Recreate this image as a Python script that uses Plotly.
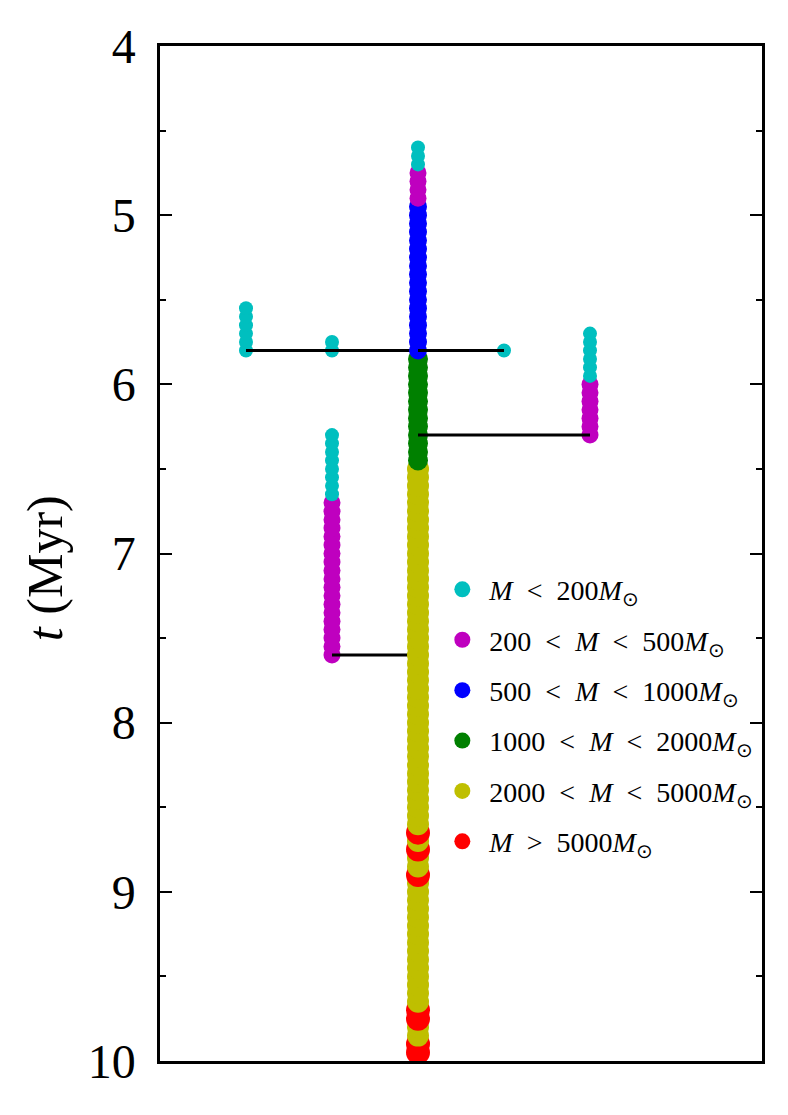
import plotly.graph_objects as go

# branch positions on the (hidden) x axis
branch_x = {"a": 1, "b": 2, "c": 3, "d": 4, "e": 5}

# snapshot times (Myr) and mass class runs for each branch
a_t = [5.55, 5.60, 5.65, 5.70, 5.75, 5.80]
a_runs = [("c", 6)]

b1_t = [5.75, 5.80]
b1_runs = [("c", 2)]

b2_t = [6.30, 6.35, 6.40, 6.45, 6.50, 6.55, 6.60, 6.65, 6.70, 6.75,
        6.80, 6.85, 6.90, 6.95, 7.00, 7.05, 7.10, 7.15, 7.20, 7.25,
        7.30, 7.35, 7.40, 7.45, 7.50, 7.55, 7.60]
b2_runs = [("c", 8), ("m", 19)]

trunk_t = [4.60, 4.65, 4.70, 4.75, 4.80, 4.85, 4.90, 4.95, 5.00, 5.05,
           5.10, 5.15, 5.20, 5.25, 5.30, 5.35, 5.40, 5.45, 5.50, 5.55,
           5.60, 5.65, 5.70, 5.75, 5.80, 5.85, 5.90, 5.95, 6.00, 6.05,
           6.10, 6.15, 6.20, 6.25, 6.30, 6.35, 6.40, 6.45, 6.50, 6.55,
           6.60, 6.65, 6.70, 6.75, 6.80, 6.85, 6.90, 6.95, 7.00, 7.05,
           7.10, 7.15, 7.20, 7.25, 7.30, 7.35, 7.40, 7.45, 7.50, 7.55,
           7.60, 7.65, 7.70, 7.75, 7.80, 7.85, 7.90, 7.95, 8.00, 8.05,
           8.10, 8.15, 8.20, 8.25, 8.30, 8.35, 8.40, 8.45, 8.50, 8.55,
           8.60, 8.65, 8.70, 8.75, 8.80, 8.85, 8.90, 8.95, 9.00, 9.05,
           9.10, 9.15, 9.20, 9.25, 9.30, 9.35, 9.40, 9.45, 9.50, 9.55,
           9.60, 9.65, 9.70, 9.75, 9.80, 9.85, 9.90, 9.95]
trunk_runs = [("c", 3), ("m", 4), ("b", 18), ("g", 13), ("y", 43),
              ("r", 1), ("y", 1), ("r", 1), ("y", 2), ("r", 1), ("y", 15),
              ("r", 2), ("y", 2), ("r", 2)]

d_t = [5.80]
d_runs = [("c", 1)]

e_t = [5.70, 5.75, 5.80, 5.85, 5.90, 5.95, 6.00, 6.05, 6.10, 6.15,
       6.20, 6.25, 6.30]
e_runs = [("c", 6), ("m", 7)]

# mergers: time, from branch, into branch
merge_t = [5.8, 5.8, 7.6, 5.8, 6.3]
merge_from = ["a", "b", "b", "d", "e"]
merge_to = ["b", "c", "c", "c", "c"]

classes = ["c", "m", "b", "g", "y", "r"]
SP = "&nbsp;&nbsp;"
SUN = "<sub>⊙</sub>"
class_labels = [
    f"&nbsp;<i>M</i>{SP}&lt;{SP}200<i>M</i>{SUN}",
    f"&nbsp;200{SP}&lt;{SP}<i>M</i>{SP}&lt;{SP}500<i>M</i>{SUN}",
    f"&nbsp;500{SP}&lt;{SP}<i>M</i>{SP}&lt;{SP}1000<i>M</i>{SUN}",
    f"&nbsp;1000{SP}&lt;{SP}<i>M</i>{SP}&lt;{SP}2000<i>M</i>{SUN}",
    f"&nbsp;2000{SP}&lt;{SP}<i>M</i>{SP}&lt;{SP}5000<i>M</i>{SUN}",
    f"&nbsp;<i>M</i>{SP}&gt;{SP}5000<i>M</i>{SUN}",
]
class_color = {"c": "#00bfbf", "m": "#bf00bf", "b": "#0000ff",
               "g": "#008000", "y": "#bfbf00", "r": "#ff0000"}
class_size = {"c": 14, "m": 17, "b": 18, "g": 20, "y": 22, "r": 24}

SERIF = "Liberation Serif, Times New Roman, serif"


def expand_runs(runs):
    out = []
    for cls, n in runs:
        out += [cls] * n
    return out


def branch_trace(key, t, runs):
    cats = expand_runs(runs)
    # later snapshots first so that earlier ones sit on top
    t_rev = t[::-1]
    cats_rev = cats[::-1]
    return go.Scatter(
        x=[branch_x[key]] * len(t_rev), y=t_rev, mode="markers",
        marker=dict(color=[class_color[c] for c in cats_rev],
                    size=[class_size[c] for c in cats_rev],
                    line=dict(width=0), opacity=1),
        showlegend=False, hoverinfo="skip")


def merge_trace(i):
    return go.Scatter(
        x=[branch_x[merge_from[i]], branch_x[merge_to[i]]],
        y=[merge_t[i], merge_t[i]], mode="lines",
        line=dict(color="black", width=3),
        showlegend=False, hoverinfo="skip")


fig = go.Figure()
fig.add_trace(branch_trace("a", a_t, a_runs))
fig.add_trace(branch_trace("b", b1_t, b1_runs))
fig.add_trace(merge_trace(0))
fig.add_trace(merge_trace(1))
fig.add_trace(branch_trace("b", b2_t, b2_runs))
fig.add_trace(merge_trace(2))
fig.add_trace(branch_trace("c", trunk_t, trunk_runs))
fig.add_trace(branch_trace("d", d_t, d_runs))
fig.add_trace(merge_trace(3))
fig.add_trace(branch_trace("e", e_t, e_runs))
fig.add_trace(merge_trace(4))

# legend entries
for cls, lab in zip(classes, class_labels):
    fig.add_trace(go.Scatter(
        x=[None], y=[None], mode="markers", name=lab, legendgroup=cls,
        marker=dict(color=class_color[cls], size=17, line=dict(width=0))))

# page body has an 8px margin, so the figure is a bit smaller than the window
fig.update_layout(
    width=780, height=1107,
    margin=dict(l=152, r=26, t=35, b=54),
    plot_bgcolor="white", paper_bgcolor="white",
    font=dict(family=SERIF, color="black"),
    legend=dict(x=0.469, y=0.489, xanchor="left", yanchor="top",
                bgcolor="rgba(0,0,0,0)", font=dict(size=28, family=SERIF),
                tracegroupgap=11, itemsizing="trace", traceorder="grouped"),
    annotations=[dict(text="<i>t</i>&nbsp;(Myr)", textangle=-90,
                      xref="paper", yref="paper", x=-0.192, y=0.486,
                      xanchor="center", yanchor="middle", showarrow=False,
                      font=dict(size=50, family=SERIF))],
)
fig.update_xaxes(range=[0, 7], showline=True, linecolor="black", linewidth=2.5,
                 mirror=True, showticklabels=False, ticks="", showgrid=False,
                 zeroline=False)
fig.update_yaxes(range=[10, 4], dtick=1, tick0=4, showline=True,
                 linecolor="black", linewidth=2.5, mirror="ticks",
                 ticks="inside", ticklen=12, tickwidth=2, tickcolor="black",
                 minor=dict(dtick=0.5, ticks="inside", ticklen=6,
                            tickwidth=2, tickcolor="black"),
                 showgrid=False, zeroline=False,
                 tickfont=dict(size=48, family=SERIF), ticklabelstandoff=12)

fig.write_html("out.html")
